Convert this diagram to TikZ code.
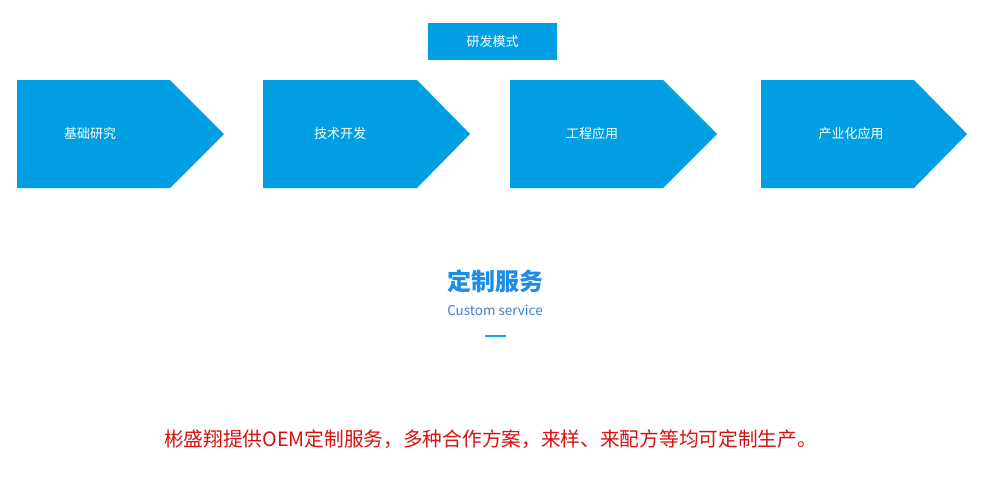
\documentclass[tikz,border=0pt]{standalone}
\usepackage{fontspec}
\setmainfont{Noto Sans CJK SC}
\newfontfamily\cjk{Noto Sans CJK SC}
\definecolor{boxblue}{HTML}{009FE3}
\definecolor{titleblue}{HTML}{1E8DE6}
\definecolor{subblue}{HTML}{3C7FD2}
\definecolor{lineblue}{HTML}{1AA3E8}
\definecolor{textred}{HTML}{D81010}
\tikzset{
  lbl/.style={text=white,font=\cjk\fontsize{13}{15}\selectfont,inner sep=0pt},
  chev/.style={fill=boxblue,draw=none}
}
\begin{document}
\begin{tikzpicture}[x=1pt,y=-1pt]
\useasboundingbox (0,0) rectangle (999,488);
\fill[white] (0,0) rectangle (999,488);
% top box
\fill[boxblue] (428,23) rectangle (557,60);
\node[lbl] (mode) at (492.5,42) {研发模式};
% chevrons
\fill[chev] (17,80) -- (170,80) -- (224,134) -- (170,188) -- (17,188) -- cycle;
\fill[chev] (263,80) -- (417,80) -- (470,134) -- (417,188) -- (263,188) -- cycle;
\fill[chev] (510,80) -- (663,80) -- (717,134) -- (663,188) -- (510,188) -- cycle;
\fill[chev] (761,80) -- (914,80) -- (967,134) -- (914,188) -- (761,188) -- cycle;
\node[lbl] (a) at (90,134) {基础研究};
\node[lbl] (b) at (340,134) {技术开发};
\node[lbl] (c) at (592,134) {工程应用};
\node[lbl] (d) at (851,134) {产业化应用};
% title
\node[inner sep=0pt,text=titleblue,font=\cjk\bfseries\fontsize{24}{28}\selectfont] (title) at (495,281) {定制服务};
\node[inner sep=0pt,text=subblue,font=\cjk\fontsize{13.5}{16}\selectfont] (sub) at (495,310) {Custom service};
\coordinate (l1) at (485,336);
\coordinate (l2) at (506,336);
\draw[lineblue,line width=2pt] (l1) -- (l2);
% red text
\node[inner sep=0pt,text=textred,font=\cjk\fontsize{19.7}{23}\selectfont] (desc) at (490.5,439) {彬盛翔提供OEM定制服务，多种合作方案，来样、来配方等均可定制生产。};
\end{tikzpicture}
\end{document}
